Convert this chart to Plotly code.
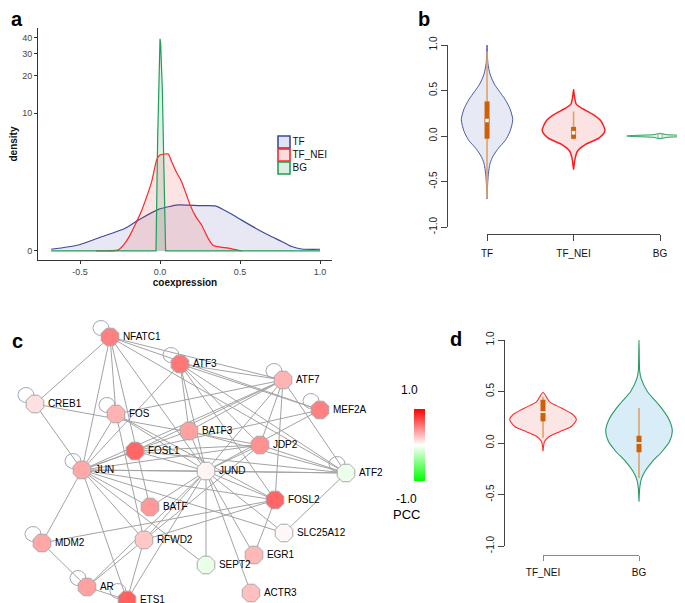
import numpy as np
import plotly.graph_objects as go

W, H = 685, 603
FONT = "Liberation Sans"

# ---- a: density of coexpression ----
tf_x = [-0.68, -0.51, -0.365, -0.22, -0.135, -0.01, 0.115, 0.25, 0.344, 0.43, 0.51, 0.6, 0.677, 0.76, 0.823, 0.885, 1.0]
tf_d = [0.03, 0.11, 0.28, 0.48, 0.71, 1.06, 1.23, 1.2, 1.19, 0.95, 0.71, 0.48, 0.32, 0.18, 0.08, 0.035, 0.03]

nei_x = [-0.40, -0.26, -0.22, -0.19, -0.156, -0.12, -0.094, -0.052, -0.02, 0.0, 0.03, 0.052, 0.073, 0.1, 0.135, 0.188, 0.22, 0.26, 0.3, 0.333, 0.38, 0.427, 0.51]
nei_d = [0.0, 0.02, 0.14, 0.3, 0.57, 0.95, 1.36, 2.34, 3.9, 4.3, 4.4, 4.4, 3.73, 3.0, 2.34, 1.23, 0.85, 0.57, 0.25, 0.1, 0.07, 0.05, 0.0]

bg_x = [-0.68, -0.025, -0.015, -0.008, -0.003, 0.0, 0.004, 0.009, 0.015, 0.021, 0.035, 1.0]
bg_d = [0, 0, 5.7, 20, 35, 39, 36, 27, 15, 5.7, 0, 0]

density_ticks = [0, 10, 20, 30, 40]
series_a = ["TF", "TF_NEI", "BG"]

# ---- b: violins TF / TF_NEI / BG (value, half width) ----
b_groups = ["TF", "TF_NEI", "BG"]
b_tf_y = [1.0, 0.8, 0.68, 0.57, 0.49, 0.4, 0.3, 0.18, 0.05, -0.05, -0.13, -0.22, -0.3, -0.42, -0.55, -0.69]
b_tf_w = [0, 0.01, 0.035, 0.085, 0.143, 0.21, 0.265, 0.297, 0.265, 0.21, 0.135, 0.07, 0.035, 0.015, 0.006, 0]
b_nei_y = [0.51, 0.45, 0.35, 0.3, 0.24, 0.165, 0.06, -0.02, -0.09, -0.165, -0.24, -0.37]
b_nei_w = [0, 0.008, 0.031, 0.104, 0.22, 0.316, 0.362, 0.297, 0.143, 0.046, 0.019, 0]
b_bg_y = [-0.03, -0.015, -0.006, 0.0, 0.006, 0.015, 0.03]
b_bg_w = [0, 0.08, 0.3, 0.385, 0.3, 0.08, 0]
# whisker low, q1, median, q3, whisker high
b_stats = [[-0.68, -0.03, 0.17, 0.38, 0.93],
           [-0.04, -0.03, 0.035, 0.10, 0.27],
           [-0.004, -0.004, 0.0, 0.004, 0.004]]

# ---- d: violins TF_NEI / BG ----
d_groups = ["TF_NEI", "BG"]
d_nei_y = [0.49, 0.40, 0.34, 0.275, 0.226, 0.16, 0.11, 0.065, 0.016, -0.08]
d_nei_w = [0, 0.069, 0.191, 0.312, 0.347, 0.295, 0.174, 0.069, 0.017, 0]
d_bg_y = [1.0, 0.7, 0.63, 0.5, 0.37, 0.24, 0.12, 0.016, -0.08, -0.18, -0.275, -0.36, -0.44, -0.57]
d_bg_w = [0, 0.007, 0.021, 0.087, 0.208, 0.306, 0.347, 0.319, 0.243, 0.139, 0.0625, 0.021, 0.007, 0]
d_stats = [[0.05, 0.21, 0.30, 0.42, 0.45],
           [-0.34, -0.09, 0.0, 0.07, 0.34]]

# ---- c: network (layout positions, PCC) ----
genes = ["NFATC1", "ATF3", "ATF7", "MEF2A", "CREB1", "FOS", "BATF3", "JDP2", "FOSL1", "JUN", "JUND",
         "ATF2", "FOSL2", "BATF", "SLC25A12", "MDM2", "RFWD2", "SEPT2", "EGR1", "AR", "ETS1", "ACTR3"]
gene_x = [102, 172, 275, 312, 27, 108, 181, 252, 127, 74, 198, 338, 267, 142, 276, 34, 136, 198, 246, 79, 119, 243]
gene_y = [329, 356, 372, 402, 396, 406, 423, 437, 443, 462, 463, 465, 492, 499, 525, 535, 532, 557, 547, 579, 592, 585]
pcc = [0.5, 0.53, 0.3, 0.5, 0.12, 0.3, 0.37, 0.43, 0.6, 0.34, 0.04, -0.08, 0.6, 0.4, 0.03, 0.35, 0.22, -0.09, 0.28, 0.37, 0.62, 0.25]
self_loops = ["NFATC1", "ATF3", "ATF7", "MEF2A", "CREB1", "FOS", "JUN", "ATF2", "MDM2", "AR", "ETS1"]
edges = [("NFATC1", "CREB1"), ("NFATC1", "JUN"), ("NFATC1", "FOS"), ("NFATC1", "JUND"), ("NFATC1", "ATF7"),
         ("NFATC1", "MEF2A"), ("NFATC1", "ATF2"), ("NFATC1", "BATF"), ("CREB1", "JUN"), ("CREB1", "JDP2"),
         ("FOS", "ATF7"), ("FOS", "JUN"), ("FOS", "RFWD2"), ("FOS", "JUND"), ("FOS", "FOSL2"),
         ("ATF3", "JUN"), ("ATF3", "JUND"), ("ATF3", "BATF3"), ("ATF3", "ATF7"), ("ATF3", "MEF2A"),
         ("ATF3", "ATF2"), ("ATF3", "FOSL2"), ("ATF3", "JDP2"), ("ATF7", "FOSL1"), ("ATF7", "JUN"),
         ("ATF7", "JUND"), ("ATF7", "JDP2"), ("ATF7", "ATF2"), ("ATF7", "FOSL2"), ("ATF7", "BATF3"),
         ("MEF2A", "JUND"), ("MEF2A", "FOSL1"), ("BATF3", "JUN"), ("BATF3", "JUND"), ("BATF3", "ATF2"),
         ("JDP2", "JUN"), ("JDP2", "JUND"), ("JDP2", "FOSL1"), ("JDP2", "ATF2"), ("JDP2", "RFWD2"),
         ("FOSL1", "JUN"), ("FOSL1", "JUND"), ("FOSL1", "ATF2"), ("JUN", "JUND"), ("JUN", "ATF2"),
         ("JUN", "BATF"), ("JUN", "MDM2"), ("JUN", "RFWD2"), ("JUN", "ETS1"), ("JUN", "FOSL2"),
         ("JUN", "SLC25A12"), ("JUN", "SEPT2"), ("JUND", "ATF2"), ("JUND", "FOSL2"), ("JUND", "BATF"),
         ("JUND", "RFWD2"), ("JUND", "ETS1"), ("JUND", "AR"), ("JUND", "SEPT2"), ("JUND", "EGR1"),
         ("JUND", "ACTR3"), ("JUND", "SLC25A12"), ("ATF2", "SLC25A12"), ("FOSL2", "RFWD2"), ("FOSL2", "EGR1"),
         ("FOSL2", "MDM2"), ("MDM2", "AR"), ("AR", "ETS1"), ("AR", "RFWD2"), ("RFWD2", "ETS1")]


def fx(p):
    return p / W


def fy(p):
    return 1 - p / H


def violin(center, vy, vw):
    xs = [center + w for w in vw] + [center - w for w in vw[::-1]]
    ys = list(vy) + list(vy[::-1])
    return xs, ys


fig = go.Figure()

# ---------------- a ----------------
a_style = [("#3D4A9E", "rgba(70,80,160,0.13)", "spline"),
           ("#FF2626", "rgba(240,70,70,0.15)", "spline"),
           ("#1F9E5A", "rgba(40,160,90,0.15)", "linear")]
for name, xs, ds, (lc, fc, shp) in zip(series_a, [tf_x, nei_x, bg_x], [tf_d, nei_d, bg_d], a_style):
    fig.add_trace(go.Scatter(x=xs, y=np.log1p(ds), name=name, mode="lines", fill="tozeroy",
                             fillcolor=fc, line=dict(color=lc, width=1.2, shape=shp, smoothing=0.6),
                             xaxis="x", yaxis="y"))

# legend of a (boxes drawn on a page-sized helper axis)
fig.add_trace(go.Scatter(
    x=[276] * 3, y=[134, 147, 160], mode="markers+text", text=series_a, textposition="middle right",
    textfont=dict(size=10, color="#111", family=FONT),
    marker=dict(symbol="square", size=12, color=["rgba(225,227,240,1)", "rgba(250,220,222,1)", "rgba(218,238,226,1)"],
                line=dict(color=[s[0] for s in a_style], width=1.6)),
    hoverinfo="skip", xaxis="x7", yaxis="y5"))

# ---------------- b ----------------
b_shapes = [(b_tf_y, b_tf_w, "#4A58A8", "rgba(225,228,242,0.8)", 1),
            (b_nei_y, b_nei_w, "#FF1E1E", "rgba(252,224,224,0.9)", 1.5),
            (b_bg_y, b_bg_w, "#22A05A", "rgba(215,240,225,0.9)", 1)]
for i, (vy, vw, lc, fc, lw) in enumerate(b_shapes):
    xs, ys = violin(i + 1, vy, vw)
    fig.add_trace(go.Scatter(x=xs, y=ys, mode="lines", fill="toself", fillcolor=fc,
                             line=dict(color=lc, width=lw, shape="spline", smoothing=0.7),
                             hoverinfo="skip", xaxis="x2", yaxis="y2"))
for i, (lo, q1, med, q3, hi) in enumerate(b_stats):
    c = i + 1
    fig.add_trace(go.Scatter(x=[c, c], y=[lo, hi], mode="lines", line=dict(color="#E2A262", width=1.6),
                             xaxis="x2", yaxis="y2"))
    fig.add_trace(go.Scatter(x=[c, c], y=[q1, q3], mode="lines", line=dict(color="#CC6108", width=5),
                             xaxis="x2", yaxis="y2"))
    fig.add_trace(go.Scatter(x=[c], y=[med], mode="markers",
                             marker=dict(symbol="square", size=4, color="white",
                                         line=dict(color="#CC6108" if i < 2 else "#22A05A", width=0.5)),
                             xaxis="x2", yaxis="y2"))
fig.add_trace(go.Scatter(x=[1, 3], y=[0, 0], mode="markers", marker=dict(opacity=0),
                         hoverinfo="skip", xaxis="x3", yaxis="y2"))

# ---------------- d ----------------
d_shapes = [(d_nei_y, d_nei_w, "#FF2A2A", "rgba(252,226,226,0.9)"),
            (d_bg_y, d_bg_w, "#2A9A5E", "rgba(214,236,247,0.95)")]
for i, (vy, vw, lc, fc) in enumerate(d_shapes):
    xs, ys = violin(i + 1, vy, vw)
    fig.add_trace(go.Scatter(x=xs, y=ys, mode="lines", fill="toself", fillcolor=fc,
                             line=dict(color=lc, width=1.1, shape="spline", smoothing=0.7),
                             hoverinfo="skip", xaxis="x4", yaxis="y3"))
for i, (lo, q1, med, q3, hi) in enumerate(d_stats):
    c = i + 1
    fig.add_trace(go.Scatter(x=[c, c], y=[lo, hi], mode="lines", line=dict(color="#E2A262", width=1.6),
                             xaxis="x4", yaxis="y3"))
    fig.add_trace(go.Scatter(x=[c, c], y=[q1, q3], mode="lines", line=dict(color="#CC6108", width=5),
                             xaxis="x4", yaxis="y3"))
    fig.add_trace(go.Scatter(x=[c], y=[med], mode="markers",
                             marker=dict(symbol="line-ew", size=4, line=dict(color="white", width=1.5)),
                             xaxis="x4", yaxis="y3"))
fig.add_trace(go.Scatter(x=[1, 2], y=[0, 0], mode="markers", marker=dict(opacity=0),
                         hoverinfo="skip", xaxis="x5", yaxis="y3"))

# ---------------- c ----------------
pos = {g: (x, y) for g, x, y in zip(genes, gene_x, gene_y)}
ex, ey = [], []
for a, b in edges:
    ex += [pos[a][0], pos[b][0], None]
    ey += [pos[a][1], pos[b][1], None]
fig.add_trace(go.Scatter(x=ex, y=ey, mode="lines", line=dict(color="#A3A3A3", width=1),
                         hoverinfo="skip", xaxis="x6", yaxis="y4"))
t = np.linspace(0, 2 * np.pi, 40)
lx, ly = [], []
for g in self_loops:
    cx, cy = pos[g][0] - 9, pos[g][1] - 9
    lx += list(cx + 8 * np.cos(t)) + [None]
    ly += list(cy + 7.5 * np.sin(t)) + [None]
fig.add_trace(go.Scatter(x=lx, y=ly, mode="lines", line=dict(color="#A0A3B8", width=1),
                         hoverinfo="skip", xaxis="x6", yaxis="y4"))
fig.add_trace(go.Scatter(
    x=gene_x, y=gene_y, mode="markers+text", text=genes, textposition="middle right",
    textfont=dict(size=10, color="black", family=FONT),
    marker=dict(symbol="octagon", size=19, color=pcc, cmin=-1, cmax=1,
                colorscale=[[0, "#00FF00"], [0.5, "#FFFFFF"], [1, "#FF0000"]],
                line=dict(color="#A8A8A8", width=1),
                colorbar=dict(x=fx(396), xanchor="left", y=fy(437), yanchor="middle",
                              len=92, lenmode="pixels", thickness=11, outlinewidth=0,
                              showticklabels=False, ticks="")),
    hoverinfo="skip", xaxis="x6", yaxis="y4"))

# ---------------- layout ----------------
ax_common = dict(showgrid=False, zeroline=False, showline=True, ticks="outside", automargin=False)
hidden = dict(visible=False, automargin=False, showgrid=False, zeroline=False)
fig.update_layout(
    width=W, height=H, margin=dict(l=0, r=0, t=0, b=0, autoexpand=False),
    paper_bgcolor="white", plot_bgcolor="rgba(0,0,0,0)",
    font=dict(family=FONT, color="#222"),
    showlegend=False,
    xaxis=dict(ax_common, domain=[fx(30), fx(324)], range=[-0.7625, 1.075], anchor="y",
               linecolor="#333", tickcolor="#333", ticklen=3,
               tickvals=[-0.5, 0, 0.5, 1.0], ticktext=["-0.5", "0.0", "0.5", "1.0"],
               tickfont=dict(size=9, color="#444"),
               title=dict(text="<b>coexpression</b>", font=dict(size=10, color="#111"), standoff=1)),
    yaxis=dict(ax_common, domain=[fy(252), fy(20)], range=[-0.157, 3.878], anchor="x",
               linecolor="#333", tickcolor="#333", ticklen=3,
               tickvals=list(np.log1p(density_ticks)), ticktext=[str(v) for v in density_ticks],
               tickfont=dict(size=9, color="#444"),
               title=dict(text="<b>density</b>", font=dict(size=10, color="#111"), standoff=4)),
    xaxis2=dict(hidden, domain=[fx(440), 1], range=[0.549, 3.38], anchor="y2"),
    yaxis2=dict(ax_common, domain=[fy(219), fy(37)], range=[-1, 1], anchor="x2",
                linecolor="#444", tickcolor="#444", ticklen=6, tickangle=-90,
                tickvals=[-1, -0.5, 0, 0.5, 1], ticktext=["-1.0", "-0.5", "0.0", "0.5", "1.0"],
                tickfont=dict(size=10, color="#222")),
    xaxis3=dict(ax_common, domain=[fx(479), fx(652)], range=[1, 3], anchor="free", position=fy(226),
                linecolor="#444", tickcolor="#444", ticklen=6, ticklabelstandoff=4,
                tickvals=[1, 2, 3], ticktext=b_groups, tickfont=dict(size=10, color="#111")),
    xaxis4=dict(hidden, domain=[fx(497), 1], range=[0.604, 2.5625], anchor="y3"),
    yaxis3=dict(ax_common, domain=[fy(538), fy(332)], range=[-1, 1], anchor="x4",
                linecolor="#444", tickcolor="#444", ticklen=6, tickangle=-90,
                tickvals=[-1, -0.5, 0, 0.5, 1], ticktext=["-1.0", "-0.5", "0.0", "0.5", "1.0"],
                tickfont=dict(size=10, color="#222")),
    xaxis5=dict(ax_common, domain=[fx(535), fx(631)], range=[1, 2], anchor="free", position=fy(547),
                linecolor="#8A8A8A", tickcolor="#8A8A8A", ticklen=5, ticklabelstandoff=3,
                tickvals=[1, 2], ticktext=d_groups, tickfont=dict(size=10, color="#111")),
    xaxis6=dict(hidden, domain=[0, fx(380)], range=[0, 380], anchor="y4"),
    yaxis4=dict(hidden, domain=[0, fy(290)], range=[603, 290], anchor="x6"),
    xaxis7=dict(hidden, domain=[0, 1], range=[0, W], anchor="y5"),
    yaxis5=dict(hidden, domain=[0, 1], range=[H, 0], anchor="x7"),
)

for txt, x, y in [("a", 9, 11), ("b", 416, 11), ("c", 9, 333), ("d", 448, 331)]:
    fig.add_annotation(text="<b>%s</b>" % txt, x=fx(x), y=fy(y), xref="paper", yref="paper",
                       xanchor="center", yanchor="middle", showarrow=False,
                       font=dict(size=20, color="black", family=FONT))
for txt, x, y, s in [("1.0", 401, 382, 12), ("-1.0", 398, 491, 12), ("PCC", 398, 506, 13)]:
    fig.add_annotation(text=txt, x=fx(x), y=fy(y), xref="paper", yref="paper",
                       xanchor="center", yanchor="middle", showarrow=False,
                       font=dict(size=s, color="black", family=FONT))

fig.write_html("out.html")
